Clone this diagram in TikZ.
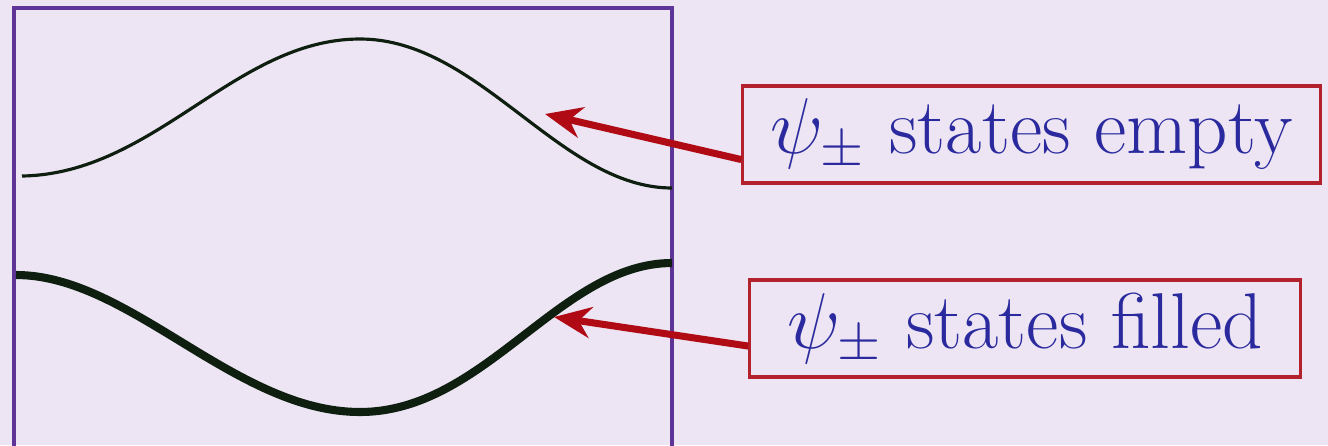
\RequirePackage{fix-cm}
\documentclass[tikz,border=0pt]{standalone}
\usepackage{amsmath}
\usepackage{xcolor}
\usepackage{tikz}
\usetikzlibrary{positioning,arrows.meta,calc}
\definecolor{cBack}{HTML}{EDE5F3}
\definecolor{cFrame}{HTML}{5E3596}
\definecolor{cBand}{HTML}{0E1F10}
\definecolor{cArr}{HTML}{B00A14}
\definecolor{cLbl}{HTML}{B3222C}
\definecolor{cTxt}{HTML}{2A2A9E}
\tikzset{
  band/frame/.style ={draw=cFrame, line width=0.9pt},
  band/upper/.style ={draw=cBand, line width=0.9pt},
  band/lower/.style ={draw=cBand, line width=2.3pt},
  lbl/box/.style    ={draw=cLbl, line width=0.9pt, fill=cBack, text=cTxt,
                      minimum height=0.97cm, inner sep=0pt,
                      font=\fontsize{22.5}{27}\selectfont},
  lbl/arr/.style    ={-{Stealth[length=0.37cm, width=0.31cm]}, cArr,
                      line width=2pt}
}

\begin{document}
\begin{tikzpicture}[x=0.01cm, y=-0.01cm]
    % page size and background
    \fill[cBack] (0,0) rectangle (1328,445);
    \useasboundingbox (0,0) rectangle (1328,445);
    % open frame round the two bands
    \draw[band/frame] (14,470) -- (14,8) -- (672,8) -- (672,470);
    % upper band (thin) and lower band (thick)
    \draw[band/upper] (22,176) .. controls (155,174) and (235,39) .. (360,39)
                      .. controls (480,39) and (560,188) .. (672,188);
    \draw[band/lower] (16,275) .. controls (130,275) and (235,412) .. (360,412)
                      .. controls (485,412) and (560,263) .. (672,263);
    % labels
    \node[lbl/box, minimum width=5.77cm] (empty)  at (1031.5,134.5)
         {$\psi_\pm$ states empty};
    \node[lbl/box, minimum width=5.50cm] (filled) at (1025,328.5)
         {$\psi_\pm$ states filled};
    % arrow tips on the bands
    \coordinate (tipE) at (545,114);
    \coordinate (tipF) at (554,317);
    \draw[lbl/arr] ($(empty.west)!0.5!(empty.south west)$) -- (tipE);
    \draw[lbl/arr] ($(filled.west)!0.35!(filled.south west)$) -- (tipF);
\end{tikzpicture}
\end{document}
